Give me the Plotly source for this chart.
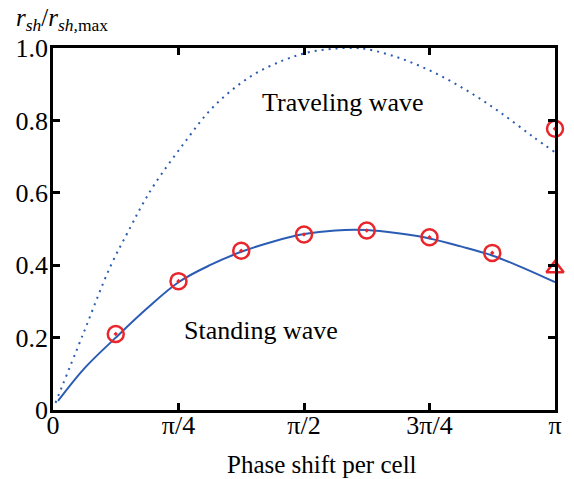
import plotly.graph_objects as go

# phase shift in units of pi
sw_x = [0.01, 0.0625, 0.125, 0.1875, 0.25, 0.3125, 0.375, 0.4375, 0.5, 0.5625,
        0.625, 0.6875, 0.75, 0.8125, 0.875, 0.9375, 1.0]
sw_y = [0.025, 0.115, 0.200, 0.281, 0.353, 0.400, 0.437, 0.465, 0.486, 0.496,
        0.497, 0.488, 0.474, 0.452, 0.427, 0.392, 0.353]

tw_x = [0.005, 0.06, 0.1135, 0.155, 0.177, 0.203, 0.26, 0.319, 0.392, 0.459,
        0.509, 0.558, 0.6, 0.625, 0.691, 0.758, 0.824, 0.890, 0.957, 1.0]
tw_y = [0.02, 0.21, 0.394, 0.507, 0.565, 0.625, 0.735, 0.837, 0.920, 0.966,
        0.988, 0.998, 1.0, 0.997, 0.972, 0.933, 0.883, 0.823, 0.754, 0.712]

meas_x = [0.125, 0.25, 0.375, 0.5, 0.625, 0.75, 0.875]
meas_y = [0.210, 0.356, 0.440, 0.485, 0.496, 0.477, 0.434]

tw_meas_x = [1.0]
tw_meas_y = [0.777]
sw_pi_x = [1.0]
sw_pi_y = [0.391]

x_tickvals = [0, 0.25, 0.5, 0.75, 1.0]
x_ticktext = ["0", "π/4", "π/2", "3π/4", "π"]
y_tickvals = [0, 0.2, 0.4, 0.6, 0.8, 1.0]
y_ticktext = ["0", "0.2", "0.4", "0.6", "0.8", "1.0"]

BLUE = "#2b5cb3"
RED = "#e8262b"
FONT = "Liberation Serif"

L, R, T, B = 53, 19, 48, 69
W, H = 574, 479
pw, ph = W - L - R, H - T - B

fig = go.Figure()
fig.add_trace(go.Scatter(x=tw_x, y=tw_y, mode="lines", line_shape="spline",
                         line=dict(color=BLUE, width=2, dash="2px,5px"),
                         showlegend=False))
fig.add_trace(go.Scatter(x=sw_x, y=sw_y, mode="lines", line_shape="spline",
                         line=dict(color=BLUE, width=2), showlegend=False))
fig.add_trace(go.Scatter(x=meas_x + tw_meas_x, y=meas_y + tw_meas_y, mode="markers",
                         marker=dict(symbol="circle-open-dot", size=16, color=RED,
                                     line=dict(width=2.5, color=RED)),
                         cliponaxis=False, showlegend=False))
fig.add_trace(go.Scatter(x=sw_pi_x, y=sw_pi_y, mode="markers",
                         marker=dict(symbol="triangle-up-open", size=15, color=RED,
                                     line=dict(width=2.5, color=RED)),
                         cliponaxis=False, showlegend=False))

axis_common = dict(showgrid=False, zeroline=False, showline=True, linecolor="black",
                   linewidth=2.5, ticks="inside", ticklen=7, tickwidth=2.5,
                   tickcolor="black", mirror="ticks",
                   tickfont=dict(family=FONT, size=26, color="black"))

fig.update_xaxes(range=[0, 1], tickvals=x_tickvals, ticktext=x_ticktext,
                 ticklabelstandoff=-10, **axis_common)
fig.update_yaxes(range=[0, 1], tickvals=y_tickvals, ticktext=y_ticktext,
                 ticklabelstandoff=-3, **axis_common)

fig.add_annotation(text="Traveling wave", x=0.578, y=0.85, xref="x", yref="y",
                   showarrow=False, font=dict(family=FONT, size=26, color="black"))
fig.add_annotation(text="Standing wave", x=0.414, y=0.219, xref="x", yref="y",
                   showarrow=False, font=dict(family=FONT, size=26, color="black"))
fig.add_annotation(text="Phase shift per cell", x=(322 - L) / pw, y=(H - B - 464) / ph,
                   xref="paper", yref="paper",
                   showarrow=False, font=dict(family=FONT, size=25, color="black"),
                   xanchor="center", yanchor="middle")
fig.add_annotation(text="<i>r</i><sub><i>sh</i></sub>/<i>r</i><sub><i>sh,</i>max</sub>",
                   x=(14 - L) / pw, y=(H - B - 19) / ph, xref="paper", yref="paper",
                   showarrow=False, xanchor="left", yanchor="middle",
                   font=dict(family=FONT, size=25, color="black"))

fig.update_layout(width=W, height=H, margin=dict(l=L, r=R, t=T, b=B),
                  paper_bgcolor="white", plot_bgcolor="white",
                  font=dict(family=FONT, color="black"))

fig.write_html("out.html")
